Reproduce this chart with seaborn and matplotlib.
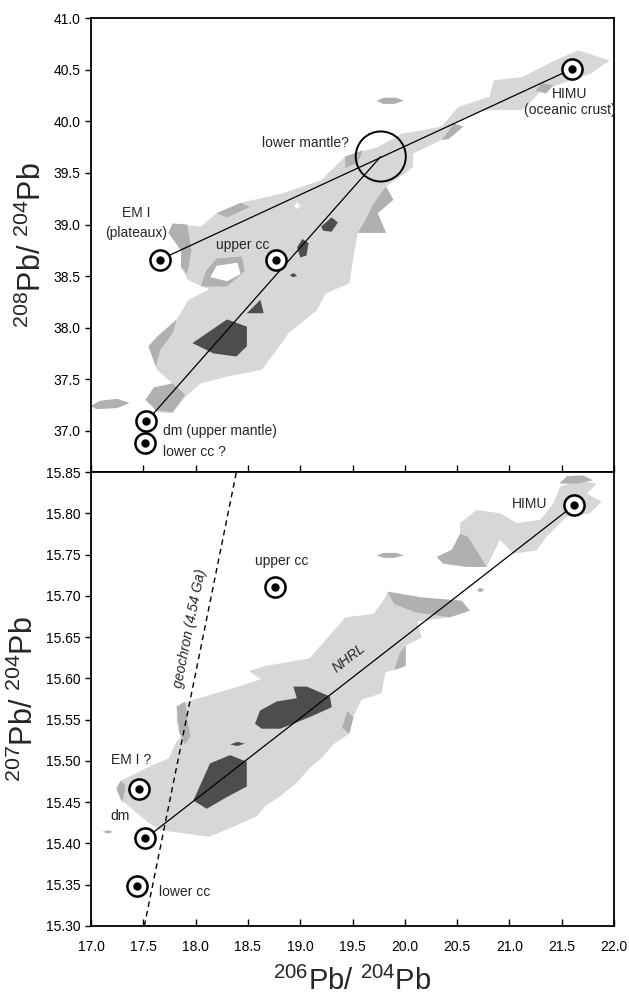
import matplotlib
matplotlib.use("Agg")
import matplotlib.pyplot as plt
import seaborn as sns
import pandas as pd

sns.set_theme(style="ticks")
plt.rcParams['font.family'] = ['Liberation Sans', 'DejaVu Sans']
plt.rcParams['mathtext.default'] = 'regular'

LIGHT = "#d7d7d7"
MED = "#b0b0b0"
DARK = "#4d4d4d"

# ---- 208Pb/204Pb vs 206Pb/204Pb (upper panel) ----
top_field = [(20.01, 39.50), (19.82, 39.37), (19.89, 39.24), (19.74, 39.11), (19.82, 38.92),
             (19.55, 38.92), (19.51, 38.69), (19.47, 38.43), (19.24, 38.33), (19.16, 38.17),
             (18.89, 37.95), (18.78, 37.79), (18.63, 37.59), (18.32, 37.53), (18.05, 37.46),
             (17.90, 37.33), (17.78, 37.17), (17.63, 37.18), (17.55, 37.30), (17.59, 37.37),
             (17.78, 37.46), (17.63, 37.59), (17.55, 37.82), (17.63, 37.91), (17.82, 38.08),
             (17.93, 38.27), (18.13, 38.37), (17.93, 38.46), (17.86, 38.59), (17.86, 38.75),
             (17.74, 38.92), (17.78, 39.01), (18.05, 38.98), (18.20, 39.11), (18.43, 39.21),
             (18.82, 39.30), (19.20, 39.43), (19.43, 39.66), (19.74, 39.75), (19.97, 39.88),
             (20.35, 39.95), (20.51, 40.14), (20.81, 40.24), (20.85, 40.40), (21.12, 40.43),
             (21.43, 40.59), (21.66, 40.69), (21.96, 40.59), (21.77, 40.46), (21.50, 40.37),
             (21.31, 40.30), (21.12, 40.11), (20.74, 40.11), (20.47, 39.98), (20.35, 39.82),
             (20.08, 39.69), (20.08, 39.56)]
top_medium = [
    [(17.52, 37.30), (17.60, 37.42), (17.78, 37.46), (17.90, 37.35), (17.78, 37.18), (17.62, 37.20)],
    [(17.55, 37.82), (17.63, 37.91), (17.82, 38.08), (17.78, 37.95), (17.66, 37.78), (17.62, 37.62)],
    [(17.74, 38.92), (17.78, 39.01), (17.92, 39.00), (17.96, 38.75), (17.92, 38.52), (17.86, 38.59), (17.86, 38.75)],
    [(18.05, 38.40), (18.10, 38.55), (18.20, 38.67), (18.44, 38.69), (18.47, 38.55), (18.30, 38.40)],
    [(18.20, 39.11), (18.43, 39.21), (18.52, 39.17), (18.30, 39.07)],
    [(19.43, 39.55), (19.43, 39.66), (19.60, 39.72), (19.55, 39.60)],
    [(19.55, 38.92), (19.82, 38.92), (19.74, 39.11), (19.89, 39.24), (19.82, 39.37), (19.70, 39.20), (19.60, 39.00)],
    [(21.25, 40.30), (21.31, 40.37), (21.42, 40.35), (21.35, 40.27)],
    [(20.35, 39.82), (20.47, 39.98), (20.56, 39.95), (20.42, 39.83)],
    [(17.00, 37.24), (17.08, 37.29), (17.25, 37.31), (17.37, 37.27), (17.25, 37.22), (17.05, 37.21)],
    [(19.73, 40.20), (19.80, 40.23), (19.92, 40.23), (19.99, 40.20), (19.90, 40.17), (19.79, 40.17)],
]
top_holes = [
    [(18.14, 38.49), (18.20, 38.60), (18.40, 38.63), (18.43, 38.52), (18.30, 38.45)],
    [(18.94, 39.18), (18.97, 39.22), (19.00, 39.18), (18.97, 39.15)],
]
top_dark = [
    [(17.97, 37.85), (18.30, 38.08), (18.49, 38.01), (18.49, 37.82), (18.39, 37.72), (18.17, 37.75)],
    [(18.49, 38.14), (18.62, 38.27), (18.65, 38.14)],
    [(18.97, 38.78), (19.02, 38.86), (19.08, 38.82), (19.06, 38.70), (19.00, 38.68)],
    [(19.20, 38.98), (19.30, 39.07), (19.36, 39.02), (19.30, 38.93), (19.22, 38.94)],
    [(18.90, 38.51), (18.94, 38.53), (18.97, 38.50), (18.93, 38.49)],
]
top_names = ["HIMU", "EM I", "upper cc", "dm", "lower cc"]
top_x = [21.60, 17.66, 18.77, 17.53, 17.52]
top_y = [40.51, 38.66, 38.66, 37.09, 36.88]
lower_mantle = (19.77, 39.66)

# ---- 207Pb/204Pb vs 206Pb/204Pb (lower panel) ----
bot_field = [(17.244, 15.466), (17.282, 15.476), (17.397, 15.483), (17.589, 15.495), (17.743, 15.503),
             (17.819, 15.524), (17.935, 15.537), (17.819, 15.545), (17.819, 15.566), (17.973, 15.574),
             (18.088, 15.578), (18.434, 15.591), (18.625, 15.599), (18.510, 15.609), (18.664, 15.615),
             (19.086, 15.624), (19.316, 15.657), (19.432, 15.674), (19.700, 15.678), (19.815, 15.698),
             (19.835, 15.705), (20.160, 15.698), (20.545, 15.694), (20.622, 15.682), (20.430, 15.674),
             (20.123, 15.669), (20.160, 15.649), (20.008, 15.640), (20.008, 15.615), (19.815, 15.607),
             (19.777, 15.582), (19.585, 15.574), (19.509, 15.553), (19.470, 15.533), (19.316, 15.520),
             (19.200, 15.503), (19.086, 15.491), (18.971, 15.474), (18.817, 15.458), (18.664, 15.445),
             (18.587, 15.433), (18.357, 15.420), (18.126, 15.408), (17.896, 15.412), (17.665, 15.416),
             (17.551, 15.425), (17.397, 15.441), (17.282, 15.454)]
bot_field2 = [(20.305, 15.747), (20.528, 15.759), (20.528, 15.788), (20.687, 15.804), (20.910, 15.800),
              (21.070, 15.788), (21.293, 15.792), (21.420, 15.812), (21.484, 15.832), (21.643, 15.840),
              (21.835, 15.836), (21.740, 15.824), (21.882, 15.814), (21.770, 15.800), (21.548, 15.796),
              (21.357, 15.772), (21.261, 15.755), (21.037, 15.751), (20.910, 15.768), (20.783, 15.735),
              (20.592, 15.735), (20.368, 15.739)]
bot_medium = [
    [(17.82, 15.566), (17.90, 15.572), (17.92, 15.550), (17.95, 15.530), (17.90, 15.520), (17.84, 15.535)],
    [(17.244, 15.466), (17.282, 15.476), (17.33, 15.470), (17.30, 15.450), (17.282, 15.454)],
    [(19.835, 15.705), (20.16, 15.698), (20.545, 15.694), (20.622, 15.682), (20.43, 15.674), (20.10, 15.680), (19.90, 15.690)],
    [(20.008, 15.640), (20.008, 15.615), (19.90, 15.610), (19.95, 15.630)],
    [(19.47, 15.533), (19.509, 15.553), (19.45, 15.560), (19.40, 15.540)],
    [(20.305, 15.747), (20.45, 15.756), (20.528, 15.775), (20.60, 15.772), (20.70, 15.752), (20.783, 15.735), (20.592, 15.735), (20.368, 15.739)],
    [(19.73, 15.749), (19.80, 15.752), (19.92, 15.752), (19.99, 15.749), (19.90, 15.746), (19.80, 15.746)],
    [(20.69, 15.707), (20.72, 15.710), (20.76, 15.707), (20.72, 15.704)],
    [(17.11, 15.414), (17.16, 15.416), (17.21, 15.414), (17.16, 15.412)],
    [(21.48, 15.836), (21.55, 15.845), (21.70, 15.846), (21.80, 15.840), (21.65, 15.836)],
]
bot_dark = [
    [(17.978, 15.452), (18.138, 15.497), (18.329, 15.507), (18.489, 15.499), (18.489, 15.469), (18.297, 15.456), (18.106, 15.442)],
    [(18.568, 15.545), (18.616, 15.561), (18.776, 15.572), (18.967, 15.576), (18.935, 15.590), (19.063, 15.590),
     (19.285, 15.578), (19.301, 15.565), (19.125, 15.555), (18.935, 15.545), (18.807, 15.539), (18.632, 15.539)],
    [(18.33, 15.520), (18.40, 15.523), (18.47, 15.521), (18.40, 15.518)],
]
bot_names = ["HIMU", "upper cc", "EM I ?", "dm", "lower cc"]
bot_x = [21.62, 18.76, 17.455, 17.52, 17.435]
bot_y = [15.810, 15.711, 15.466, 15.406, 15.348]
geochron_x = [17.51, 18.39]
geochron_y = [15.30, 15.85]

x_ticks = [17.0, 17.5, 18.0, 18.5, 19.0, 19.5, 20.0, 20.5, 21.0, 21.5, 22.0]
top_ticks = [37.0, 37.5, 38.0, 38.5, 39.0, 39.5, 40.0, 40.5, 41.0]
bot_ticks = [15.30, 15.35, 15.40, 15.45, 15.50, 15.55, 15.60, 15.65, 15.70, 15.75, 15.80, 15.85]


def fill_poly(ax, pts, color, z):
    xs = [p[0] for p in pts]
    ys = [p[1] for p in pts]
    ax.fill(xs, ys, color=color, lw=0, zorder=z)


def end_members(ax, xs, ys):
    df = pd.DataFrame({"x": xs, "y": ys})
    sns.scatterplot(data=df, x="x", y="y", ax=ax, s=210, color="white",
                    edgecolor="black", linewidth=1.8, zorder=5, legend=False)
    sns.scatterplot(data=df, x="x", y="y", ax=ax, s=36, color="black",
                    edgecolor="black", linewidth=0, zorder=6, legend=False)


fig = plt.figure(figsize=(6.29, 9.96), dpi=100)
ax1 = fig.add_axes([0.1447, 0.5261, 0.8315, 0.4555])
ax2 = fig.add_axes([0.1447, 0.0703, 0.8315, 0.4558])

# upper panel
fill_poly(ax1, top_field, LIGHT, 1)
for p in top_medium:
    fill_poly(ax1, p, MED, 2)
for p in top_holes:
    fill_poly(ax1, p, "white", 2.5)
for p in top_dark:
    fill_poly(ax1, p, DARK, 3)

sns.lineplot(x=[top_x[1], top_x[0]], y=[top_y[1], top_y[0]], ax=ax1, color="black", lw=0.9, zorder=4, sort=False)
sns.lineplot(x=[top_x[3], lower_mantle[0]], y=[top_y[3], lower_mantle[1]], ax=ax1, color="black", lw=0.9, zorder=4, sort=False)
ax1.scatter([lower_mantle[0]], [lower_mantle[1]], s=1300, facecolor="none", edgecolor="black", linewidth=1.4, zorder=5)
end_members(ax1, top_x, top_y)

ax1.text(21.58, 40.27, "HIMU", ha="center", va="center", fontsize=10)
ax1.text(21.58, 40.11, "(oceanic crust)", ha="center", va="center", fontsize=10)
ax1.text(19.05, 39.79, "lower mantle?", ha="center", va="center", fontsize=10)
ax1.text(17.43, 39.11, "EM I", ha="center", va="center", fontsize=10)
ax1.text(17.43, 38.92, "(plateaux)", ha="center", va="center", fontsize=10)
ax1.text(18.45, 38.80, "upper cc", ha="center", va="center", fontsize=10)
ax1.text(17.69, 37.00, "dm (upper mantle)", ha="left", va="center", fontsize=10)
ax1.text(17.69, 36.79, "lower cc ?", ha="left", va="center", fontsize=10)

ax1.set_xlim(17.0, 22.0)
ax1.set_ylim(36.6, 41.0)
ax1.set_xticks(x_ticks)
ax1.set_xticklabels([])
ax1.set_yticks(top_ticks)
ax1.set_yticklabels([f"{t:.1f}" for t in top_ticks])
ax1.set_xlabel("")
ax1.set_ylabel(r"$^{208}$Pb/ $^{204}$Pb", fontsize=22, labelpad=4)

# lower panel
fill_poly(ax2, bot_field, LIGHT, 1)
fill_poly(ax2, bot_field2, LIGHT, 1)
for p in bot_medium:
    fill_poly(ax2, p, MED, 2)
for p in bot_dark:
    fill_poly(ax2, p, DARK, 3)

sns.lineplot(x=[bot_x[3], bot_x[0]], y=[bot_y[3], bot_y[0]], ax=ax2, color="black", lw=0.9, zorder=4, sort=False)
ax2.plot(geochron_x, geochron_y, color="black", lw=1.0, ls=(0, (4, 3)), zorder=4)
end_members(ax2, bot_x, bot_y)

ax2.text(21.19, 15.811, "HIMU", ha="center", va="center", fontsize=10)
ax2.text(18.82, 15.742, "upper cc", ha="center", va="center", fontsize=10)
ax2.text(17.38, 15.501, "EM I ?", ha="center", va="center", fontsize=10)
ax2.text(17.28, 15.433, "dm", ha="center", va="center", fontsize=10)
ax2.text(17.65, 15.341, "lower cc", ha="left", va="center", fontsize=10)
ax2.text(19.47, 15.624, "NHRL", ha="center", va="center", fontsize=10, style="italic", rotation=38)
ax2.text(17.95, 15.66, "geochron (4.54 Ga)", ha="center", va="center", fontsize=10, style="italic", rotation=78.7)

ax2.set_xlim(17.0, 22.0)
ax2.set_ylim(15.30, 15.85)
ax2.set_xticks(x_ticks)
ax2.set_xticklabels([f"{t:.1f}" for t in x_ticks])
ax2.set_yticks(bot_ticks)
ax2.set_yticklabels([f"{t:.2f}" for t in bot_ticks])
ax2.set_xlabel(r"$^{206}$Pb/ $^{204}$Pb", fontsize=21, labelpad=9)
ax2.set_ylabel(r"$^{207}$Pb/ $^{204}$Pb", fontsize=22, labelpad=4)

for ax in (ax1, ax2):
    for s in ax.spines.values():
        s.set_visible(True)
        s.set_linewidth(1.3)
        s.set_color("black")
    ax.set_facecolor("white")
    ax.tick_params(axis="y", direction="out", length=4, width=1, labelsize=10, colors="black")
    ax.tick_params(axis="x", direction="in", length=5, width=1, labelsize=10, colors="black", pad=10)

fig.savefig("out.png", dpi=100, facecolor="white")
